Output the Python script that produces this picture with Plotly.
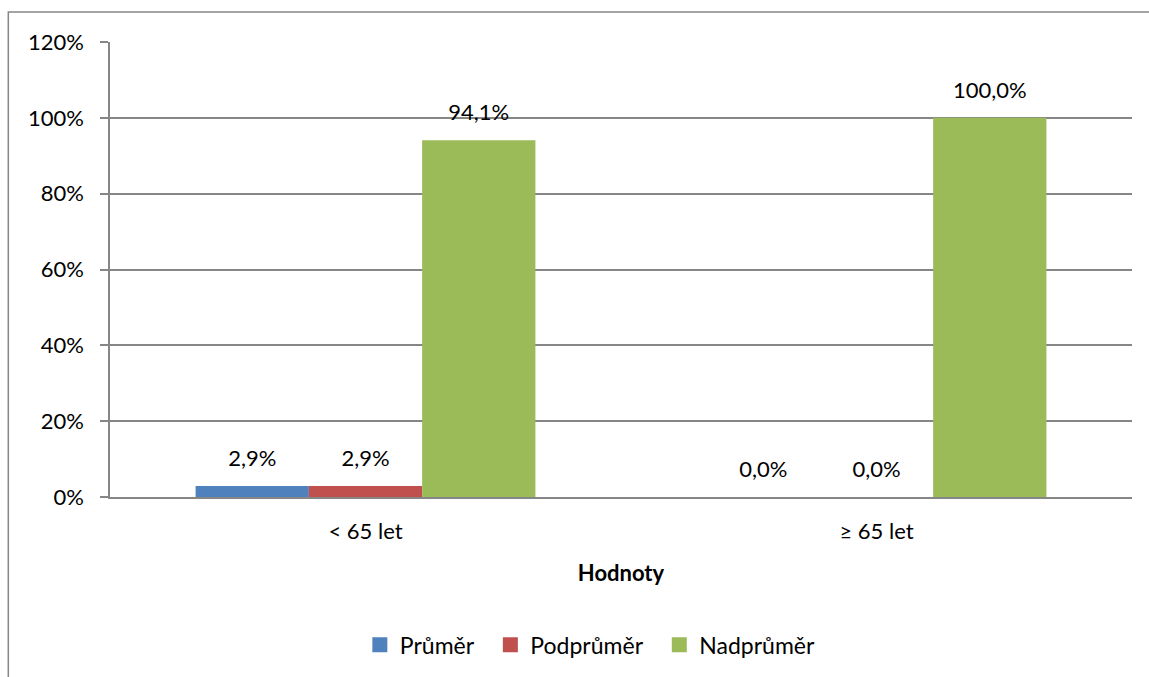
import plotly.graph_objects as go

categories = ["< 65 let", "≥ 65 let"]
series_names = ["Průměr", "Podprůměr", "Nadprůměr"]
prumer = [0.029, 0.0]
podprumer = [0.029, 0.0]
nadprumer = [0.941, 1.0]
colors = ["#4F81BD", "#C0504D", "#9BBB59"]

font_family = "Lato, 'Open Sans', 'Liberation Sans', sans-serif"
FS = 22

fig = go.Figure()
for i, (name, vals, col) in enumerate(zip(series_names, [prumer, podprumer, nadprumer], colors)):
    fig.add_trace(go.Bar(
        name=name, x=categories, y=vals, marker_color=col,
        marker_line_width=0, offsetgroup=str(i), showlegend=False,
    ))
for i, (name, vals) in enumerate(zip(series_names, [prumer, podprumer, nadprumer])):
    fig.add_trace(go.Scatter(
        x=categories, y=vals, mode="markers+text", offsetgroup=str(i),
        text=[f"{v*100:.1f}%".replace(".", ",") for v in vals],
        textposition="top center", cliponaxis=False,
        marker=dict(size=22, opacity=0), showlegend=False, hoverinfo="skip",
        textfont=dict(size=FS, color="#000000", family=font_family),
    ))
# legend entries (square swatches)
for j, (name, col) in enumerate(zip(series_names, colors)):
    pad = "\u00a0\u00a0" if j < len(series_names) - 1 else ""
    fig.add_trace(go.Scatter(
        x=[None], y=[None], mode="markers", name=name + pad,
        marker=dict(symbol="square", size=15, color=col), showlegend=True,
    ))

fig.update_layout(
    width=1149, height=677,
    paper_bgcolor="white", plot_bgcolor="white",
    barmode="group", scattermode="group", bargap=0.335, bargroupgap=0,
    margin=dict(l=110, r=17, t=42, b=180, autoexpand=False),
    font=dict(family=font_family, size=FS, color="#000000"),
    showlegend=True,
    legend=dict(orientation="h", x=0.47, xanchor="center", y=-0.325, yanchor="middle",
                font=dict(size=23), traceorder="normal", itemwidth=30),
)
fig.update_xaxes(
    showline=True, linecolor="#868686", linewidth=1.5, automargin=False,
    ticks="", tickfont=dict(size=FS), ticklabelstandoff=14,
    title=dict(text="<b>Hodnoty</b>", font=dict(size=FS), standoff=22),
)
fig.update_yaxes(
    range=[0, 1.2], dtick=0.2, tickformat=".0%", automargin=False,
    showgrid=True, gridcolor="#868686", gridwidth=1.5,
    showline=True, linecolor="#868686", linewidth=1.5,
    ticks="outside", ticklen=8, tickcolor="#868686", tickwidth=1.5,
    tickfont=dict(size=FS), zeroline=False, ticklabelstandoff=12,
)
fig.add_shape(type="rect", xref="paper", yref="paper",
              x0=-0.0995, x1=1.05, y0=-0.5, y1=1.066,
              line=dict(color="#868686", width=1.5), fillcolor="rgba(0,0,0,0)", layer="below")

fig.write_html("out.html")
